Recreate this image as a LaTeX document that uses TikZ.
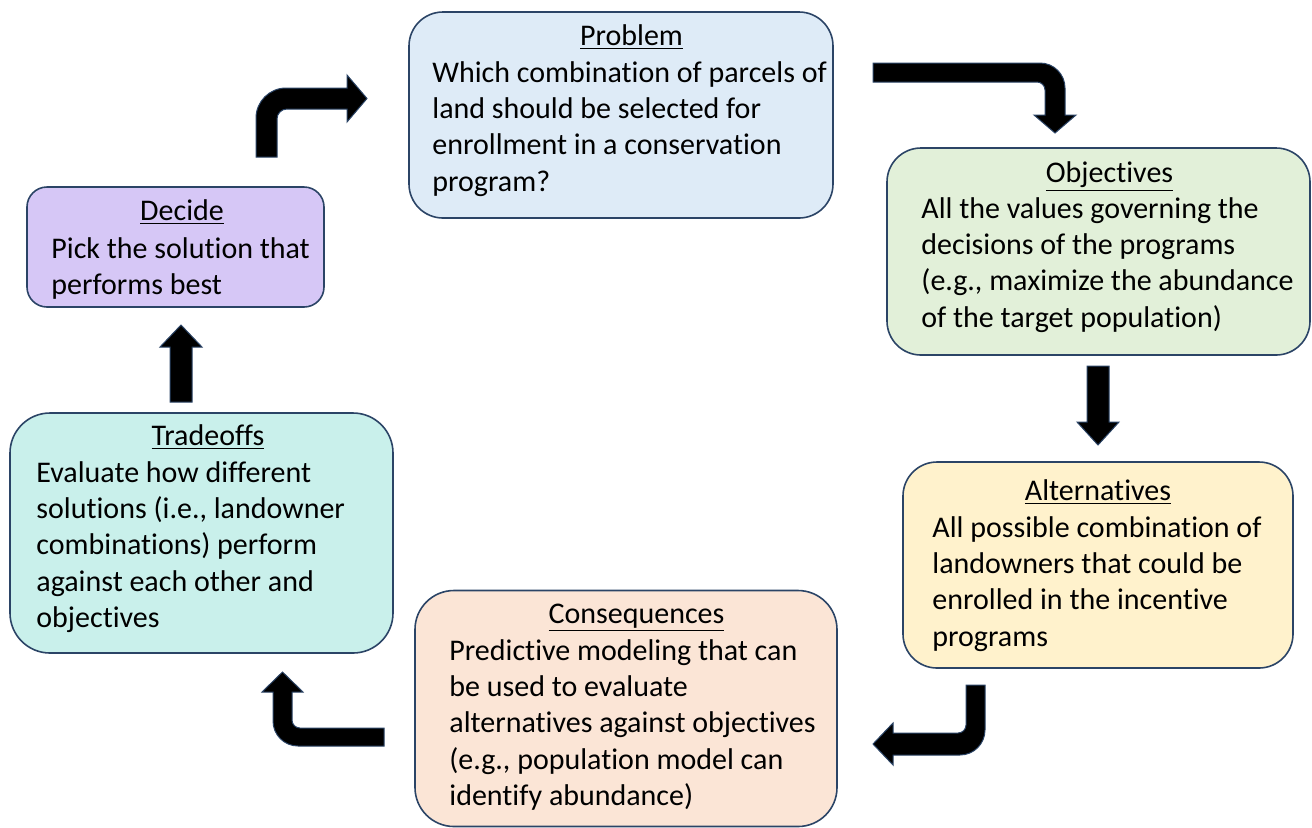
\documentclass[tikz,border=0pt]{standalone}
\usepackage{fontspec}
\setmainfont{Carlito}[RawFeature={-liga;-clig;-calt;-dlig;-rlig}]
\definecolor{edge}{HTML}{2B4466}
\definecolor{fprob}{HTML}{DEEBF7}
\definecolor{fobj}{HTML}{E2F0D9}
\definecolor{falt}{HTML}{FFF2CC}
\definecolor{fcons}{HTML}{FBE5D6}
\definecolor{ftrade}{HTML}{C9F0EB}
\definecolor{fdec}{HTML}{D6C7F6}
\tikzset{
  box/.style={draw=edge, line width=0.8pt, inner sep=0pt},
  ttl/.style={anchor=base, inner sep=0pt, font=\fontsize{15}{18.2}\selectfont},
  body/.style={anchor=base west, inner sep=0pt, font=\fontsize{15}{18.2}\selectfont},
  blockarrow/.style={fill=black, draw=edge, line width=0.5pt, line join=miter}
}
\newcommand{\bodytext}[1]{\parbox[t]{260pt}{\raggedright\fontsize{15}{18.2}\selectfont #1}}
\newcommand{\ttlline}[1]{\underline{#1}}
\begin{document}
\begin{tikzpicture}[x=0.5pt,y=-0.5pt]
\useasboundingbox (0,0) rectangle (1312,827);
% boxes
\node[box, fill=fprob, minimum width=212pt, minimum height=103pt, rounded corners=17pt] (prob) at (621,115) {};
\node[box, fill=fobj, minimum width=211.5pt, minimum height=103.5pt, rounded corners=17pt] (obj) at (1098.5,251.5) {};
\node[box, fill=falt, minimum width=195pt, minimum height=103pt, rounded corners=17pt] (alt) at (1098,565) {};
\node[box, fill=fcons, minimum width=211pt, minimum height=118pt, rounded corners=19.5pt] (cons) at (626,708.5) {};
\node[box, fill=ftrade, minimum width=191.5pt, minimum height=120pt, rounded corners=20pt] (trade) at (201.5,533) {};
\node[box, fill=fdec, minimum width=148.5pt, minimum height=60pt, rounded corners=10pt] (dec) at (175.5,247) {};
% titles
\node[ttl] (probt) at (631.5,45) {\ttlline{Problem}};
\node[ttl] (objt) at (1109.5,182) {\ttlline{Objectives}};
\node[ttl] (altt) at (1098,500) {\ttlline{Alternatives}};
\node[ttl] (const) at (636.5,623) {\ttlline{Consequences}};
\node[ttl] (tradet) at (208,445) {\ttlline{Tradeoffs}};
\node[ttl] (dect) at (182,220) {\ttlline{Decide}};
% bodies
\node[body] (probb) at (432,82) {\bodytext{Which combination of parcels of\\land should be selected for\\enrollment in a conservation\\program?}};
\node[body] (objb) at (921,218) {\bodytext{All the values governing the\\decisions of the programs\\(e.g., maximize the abundance\\of the target population)}};
\node[body] (altb) at (932,537) {\bodytext{All possible combination of\\landowners that could be\\enrolled in the incentive\\programs}};
\node[body] (consb) at (449,660) {\bodytext{Predictive modeling that can\\be used to evaluate\\alternatives against objectives\\(e.g., population model can\\identify abundance)}};
\node[body] (tradeb) at (36,482) {\bodytext{Evaluate how different\\solutions (i.e., landowner\\combinations) perform\\against each other and\\objectives}};
\node[body] (decb) at (51,258) {\bodytext{Pick the solution that\\performs best}};
% block arrows
\draw[blockarrow] (256,157) -- (256,118) .. controls (256,101.5) and (269.5,88) .. (286,88) -- (347,88) -- (347,75) -- (367,98.5) -- (347,122) -- (347,109) -- (287,109) .. controls (281.5,109) and (277,113.5) .. (277,119) -- (277,157) -- cycle;
\draw[blockarrow] (873,63) -- (1040,63) .. controls (1053.8,63) and (1065,74.2) .. (1065,88) -- (1065,115) -- (1076,115) -- (1055,133) -- (1034,115) -- (1045,115) -- (1045,90) .. controls (1045,85.6) and (1041.4,82) .. (1037,82) -- (873,82) -- cycle;
\draw[blockarrow] (1087,366) -- (1109,366) -- (1109,422) -- (1119,422) -- (1098,445) -- (1077,422) -- (1087,422) -- cycle;
\draw[blockarrow] (966,685) -- (985,685) -- (985,730) .. controls (985,743.8) and (973.8,755) .. (960,755) -- (893,755) -- (893,765) -- (873,744) -- (893,723) -- (893,733) -- (958,733) .. controls (962.4,733) and (966,729.4) .. (966,725) -- cycle;
\draw[blockarrow] (384,728) -- (384,746) -- (298,746) .. controls (284.2,746) and (273,734.8) .. (273,721) -- (273,692) -- (262,692) -- (282.5,672) -- (303,692) -- (292,692) -- (292,720) .. controls (292,724.4) and (295.6,728) .. (300,728) -- cycle;
\draw[blockarrow] (170,402) -- (170,347) -- (160,347) -- (181,325) -- (202,347) -- (192,347) -- (192,402) -- cycle;
\end{tikzpicture}
\end{document}
